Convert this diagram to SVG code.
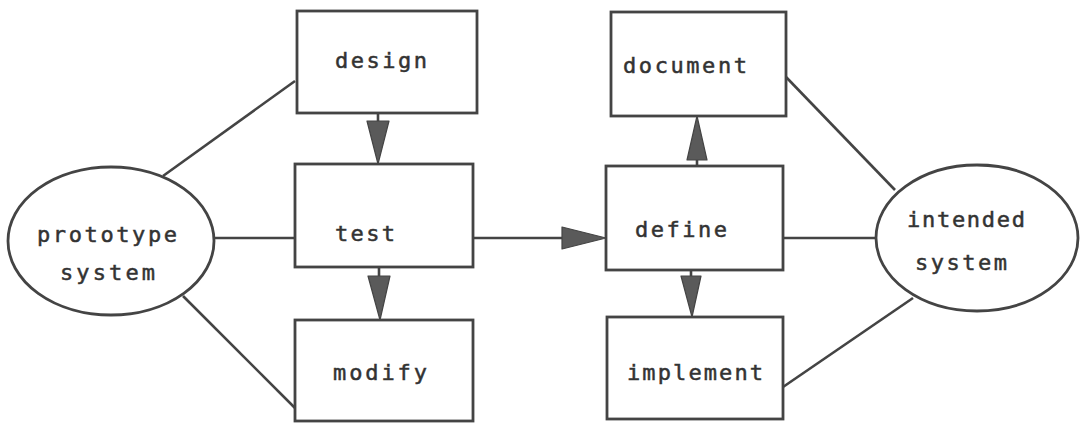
<svg xmlns="http://www.w3.org/2000/svg" width="1080" height="423" viewBox="0 0 1080 423">
<style>
.box{fill:#fff;stroke:#444;stroke-width:2.8}
.ell{fill:#fff;stroke:#444;stroke-width:2.8}
.ln{fill:none;stroke:#444;stroke-width:2.6}
.ah{fill:#5a5a5a;stroke:#444;stroke-width:1.2;stroke-linejoin:round}
text{font-family:"DejaVu Sans Mono","Liberation Mono",monospace;font-size:22px;fill:#333;stroke:#333;stroke-width:0.5}
</style>
<rect width="1080" height="423" fill="#fff"/>
<g id="connectors">
<line class="ln" x1="163" y1="176" x2="295" y2="81"/>
<line class="ln" x1="183" y1="296" x2="295" y2="408"/>
<line class="ln" x1="214" y1="238" x2="295" y2="238"/>
<line class="ln" x1="378" y1="113" x2="378" y2="122"/>
<polygon class="ah" points="367,121 389,121 378,164"/>
<line class="ln" x1="379" y1="267" x2="379" y2="277"/>
<polygon class="ah" points="368,276 390,276 380,320"/>
<line class="ln" x1="473" y1="238" x2="563" y2="238"/>
<polygon class="ah" points="562,227 562,249 606,238"/>
<line class="ln" x1="697" y1="166" x2="697" y2="159"/>
<polygon class="ah" points="687,160 707,160 697,116"/>
<line class="ln" x1="691" y1="270" x2="691" y2="277"/>
<polygon class="ah" points="681,276 701,276 692,317"/>
<line class="ln" x1="786" y1="77" x2="895" y2="190"/>
<line class="ln" x1="783" y1="238" x2="876" y2="238"/>
<line class="ln" x1="783" y1="387" x2="913" y2="298"/>
</g>
<g id="prototype">
<ellipse class="ell" cx="111" cy="241" rx="103" ry="74"/>
<text x="37" y="242" textLength="140" lengthAdjust="spacing">prototype</text>
<text x="60" y="280" textLength="95" lengthAdjust="spacing">system</text>
</g>
<g id="design">
<rect class="box" x="297" y="11" width="180" height="102"/>
<text x="335" y="68" textLength="92" lengthAdjust="spacing">design</text>
</g>
<g id="test">
<rect class="box" x="295" y="164" width="178" height="103"/>
<text x="335" y="241" textLength="60" lengthAdjust="spacing">test</text>
</g>
<g id="modify">
<rect class="box" x="295" y="320" width="178" height="101"/>
<text x="333" y="380" textLength="94" lengthAdjust="spacing">modify</text>
</g>
<g id="document">
<rect class="box" x="611" y="12" width="175" height="104"/>
<text x="623" y="73" textLength="124" lengthAdjust="spacing">document</text>
</g>
<g id="define">
<rect class="box" x="606" y="166" width="177" height="104"/>
<text x="635" y="237" textLength="92" lengthAdjust="spacing">define</text>
</g>
<g id="implement">
<rect class="box" x="607" y="317" width="176" height="102"/>
<text x="627" y="380" textLength="136" lengthAdjust="spacing">implement</text>
</g>
<g id="intended">
<ellipse class="ell" cx="977" cy="238" rx="101" ry="73"/>
<text x="907" y="227" textLength="118" lengthAdjust="spacing">intended</text>
<text x="915" y="270" textLength="92" lengthAdjust="spacing">system</text>
</g>
</svg>
